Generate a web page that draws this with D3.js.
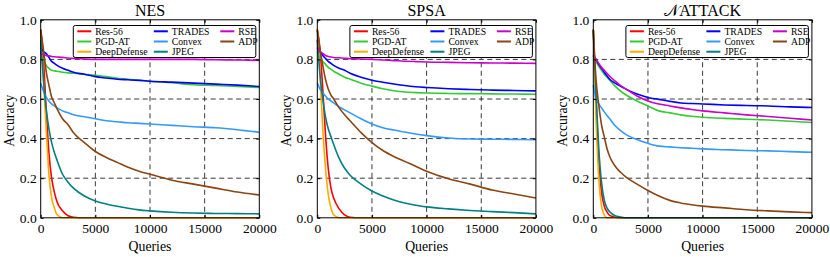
<!DOCTYPE html>
<html>
<head>
<meta charset="utf-8">
<script src="https://cdn.jsdelivr.net/npm/d3@7"></script>
<style>
  body { margin: 0; background: #fff; }
  text { font-family: "Liberation Serif", "Times New Roman", serif; font-weight: normal; }
</style>
</head>
<body>
<div id="chart"></div>
<script>
const queries = [0,250,500,750,1000,1250,1500,2000,2500,3000,4000,5000,6000,7000,8000,9000,10000,12000,14000,16000,18000,20000];

const methods = ["Res-56", "PGD-AT", "DeepDefense", "TRADES", "Convex", "JPEG", "RSE", "ADP"];
const colors = ["#ff0000", "#33cc33", "#ffaa00", "#0000ff", "#3399ff", "#008080", "#cc00cc", "#8b4513"];

const xTicks = [0, 5000, 10000, 15000, 20000];
const yTicks = [0, 0.2, 0.4, 0.6, 0.8, 1.0];

// NES
const nesRes56 = [0.95,0.8,0.55,0.33,0.2,0.13,0.08,0.035,0.01,0.003,0,0,0,0,0,0,0,0,0,0,0,0];
const nesPgdat = [0.84,0.8,0.77,0.755,0.745,0.742,0.74,0.735,0.732,0.73,0.725,0.72,0.713,0.705,0.70,0.695,0.69,0.682,0.672,0.668,0.663,0.658];
const nesDeep = [0.95,0.7,0.45,0.22,0.1,0.05,0.015,0,0,0,0,0,0,0,0,0,0,0,0,0,0,0];
const nesTrades = [0.86,0.84,0.83,0.81,0.79,0.78,0.77,0.755,0.745,0.735,0.725,0.713,0.706,0.70,0.697,0.694,0.69,0.685,0.68,0.675,0.67,0.663];
const nesConvex = [0.68,0.64,0.61,0.59,0.575,0.565,0.555,0.54,0.53,0.52,0.51,0.5,0.49,0.485,0.48,0.477,0.474,0.467,0.46,0.455,0.445,0.432];
const nesJpeg = [0.9,0.7,0.55,0.45,0.38,0.33,0.29,0.22,0.18,0.15,0.11,0.085,0.07,0.058,0.048,0.04,0.035,0.028,0.024,0.022,0.021,0.02];
const nesRse = [0.83,0.825,0.82,0.818,0.815,0.813,0.812,0.81,0.807,0.805,0.802,0.80,0.80,0.80,0.80,0.80,0.80,0.80,0.80,0.798,0.797,0.795];
const nesAdp = [0.95,0.85,0.74,0.67,0.61,0.58,0.55,0.5,0.47,0.43,0.38,0.335,0.305,0.28,0.255,0.235,0.22,0.19,0.17,0.15,0.13,0.115];

// SPSA
const spsaRes56 = [0.95,0.85,0.65,0.42,0.25,0.15,0.1,0.045,0.015,0.003,0,0,0,0,0,0,0,0,0,0,0,0];
const spsaPgdat = [0.84,0.81,0.79,0.775,0.76,0.75,0.74,0.725,0.71,0.70,0.68,0.665,0.652,0.642,0.635,0.632,0.63,0.628,0.627,0.626,0.625,0.624];
const spsaDeep = [0.95,0.72,0.45,0.25,0.12,0.05,0.015,0,0,0,0,0,0,0,0,0,0,0,0,0,0,0];
const spsaTrades = [0.86,0.84,0.82,0.805,0.79,0.78,0.77,0.755,0.745,0.73,0.71,0.695,0.685,0.676,0.668,0.662,0.658,0.652,0.648,0.645,0.643,0.641];
const spsaConvex = [0.68,0.65,0.63,0.615,0.6,0.59,0.58,0.56,0.545,0.53,0.5,0.474,0.455,0.443,0.433,0.423,0.415,0.403,0.398,0.397,0.396,0.394];
const spsaJpeg = [0.9,0.72,0.6,0.51,0.45,0.41,0.37,0.3,0.25,0.215,0.17,0.135,0.11,0.09,0.075,0.063,0.055,0.045,0.037,0.031,0.026,0.02];
const spsaRse = [0.86,0.84,0.83,0.82,0.815,0.812,0.81,0.808,0.806,0.804,0.802,0.80,0.797,0.794,0.791,0.789,0.787,0.785,0.783,0.782,0.781,0.78];
const spsaAdp = [0.95,0.85,0.77,0.7,0.65,0.62,0.6,0.555,0.52,0.49,0.43,0.38,0.34,0.31,0.285,0.26,0.235,0.197,0.17,0.14,0.12,0.10];

// NATTACK
const natRes56 = [0.95,0.6,0.3,0.13,0.06,0.03,0.012,0.003,0,0,0,0,0,0,0,0,0,0,0,0,0,0];
const natPgdat = [0.82,0.79,0.765,0.745,0.725,0.71,0.695,0.665,0.64,0.62,0.59,0.565,0.54,0.53,0.52,0.513,0.508,0.502,0.498,0.494,0.488,0.481];
const natDeep = [0.95,0.5,0.2,0.06,0.015,0,0,0,0,0,0,0,0,0,0,0,0,0,0,0,0,0];
const natTrades = [0.82,0.8,0.775,0.755,0.735,0.717,0.7,0.68,0.664,0.65,0.625,0.608,0.598,0.588,0.58,0.577,0.575,0.57,0.567,0.565,0.56,0.557];
const natConvex = [0.67,0.6,0.575,0.555,0.535,0.517,0.5,0.465,0.44,0.42,0.395,0.376,0.362,0.358,0.354,0.351,0.348,0.344,0.34,0.338,0.334,0.331];
const natJpeg = [0.95,0.62,0.35,0.18,0.09,0.05,0.03,0.01,0.004,0,0,0,0,0,0,0,0,0,0,0,0,0];
const natRse = [0.82,0.8,0.78,0.76,0.745,0.73,0.715,0.69,0.668,0.65,0.615,0.59,0.575,0.565,0.555,0.547,0.54,0.53,0.52,0.512,0.503,0.494];
const natAdp = [0.95,0.7,0.57,0.47,0.41,0.35,0.31,0.26,0.23,0.205,0.17,0.138,0.11,0.088,0.075,0.066,0.059,0.05,0.041,0.035,0.03,0.026];

const panels = [
  { title: "NES", left: 40.7, series: [nesRes56, nesPgdat, nesDeep, nesTrades, nesConvex, nesJpeg, nesRse, nesAdp] },
  { title: "SPSA", left: 317.3, series: [spsaRes56, spsaPgdat, spsaDeep, spsaTrades, spsaConvex, spsaJpeg, spsaRse, spsaAdp] },
  { title: "\u{1D4A9}ATTACK", left: 593.3, series: [natRes56, natPgdat, natDeep, natTrades, natConvex, natJpeg, natRse, natAdp] }
];

const W = 830, H = 257;
const pw = 218.6, plotTop = 19.8, plotBottom = 217.8;

const svg = d3.select("#chart").append("svg")
  .attr("width", W)
  .attr("height", H);

panels.forEach(p => {
  const x = d3.scaleLinear().domain([0, 20000]).range([p.left, p.left + pw]);
  const y = d3.scaleLinear().domain([0, 1]).range([plotBottom, plotTop]);
  const g = svg.append("g");

  // dashed grid
  g.append("g").selectAll("line")
    .data(xTicks.slice(1, -1))
    .join("line")
    .attr("x1", d => x(d)).attr("x2", d => x(d))
    .attr("y1", plotTop).attr("y2", plotBottom)
    .attr("stroke", "#222").attr("stroke-width", 0.9)
    .attr("stroke-dasharray", "5,3.5");
  g.append("g").selectAll("line")
    .data(yTicks.slice(1, -1))
    .join("line")
    .attr("x1", p.left).attr("x2", p.left + pw)
    .attr("y1", d => y(d)).attr("y2", d => y(d))
    .attr("stroke", "#222").attr("stroke-width", 0.9)
    .attr("stroke-dasharray", "5,3.5");

  // curves
  const line = d3.line()
    .x((d, i) => x(queries[i]))
    .y(d => y(d))
    .curve(d3.curveMonotoneX);

  g.append("g").selectAll("path")
    .data(p.series)
    .join("path")
    .attr("d", d => line(d))
    .attr("fill", "none")
    .attr("stroke", (d, i) => colors[i])
    .attr("stroke-width", 1.6);

  // axes with inward ticks
  const xAxis = g.append("g")
    .attr("transform", `translate(0,${plotBottom})`)
    .call(d3.axisBottom(x).tickValues(xTicks).tickSize(-3).tickPadding(5.5).tickFormat(d3.format("d")));
  const yAxis = g.append("g")
    .attr("transform", `translate(${p.left},0)`)
    .call(d3.axisLeft(y).tickValues(yTicks).tickSize(-3).tickPadding(4).tickFormat(d3.format(".1f")));
  g.append("g")
    .attr("transform", `translate(0,${plotTop})`)
    .call(d3.axisTop(x).tickValues(xTicks).tickSize(-3).tickFormat(""));
  g.append("g")
    .attr("transform", `translate(${p.left + pw},0)`)
    .call(d3.axisRight(y).tickValues(yTicks).tickSize(-3).tickFormat(""));

  g.selectAll(".domain").remove();
  [xAxis, yAxis].forEach(a => a.selectAll("text")
    .attr("font-size", 13.5)
    .attr("fill", "#000"));

  g.append("rect")
    .attr("x", p.left).attr("y", plotTop)
    .attr("width", pw).attr("height", plotBottom - plotTop)
    .attr("fill", "none").attr("stroke", "#000").attr("stroke-width", 1);

  // labels
  g.append("text")
    .attr("x", p.left + pw / 2).attr("y", 15.5)
    .attr("text-anchor", "middle")
    .attr("font-size", 16)
    .text(p.title);
  g.append("text")
    .attr("x", p.left + pw / 2).attr("y", 251)
    .attr("text-anchor", "middle")
    .attr("font-size", 13.8)
    .text("Queries");
  g.append("text")
    .attr("transform", `translate(${p.left - 26.5},${(plotTop + plotBottom) / 2 + 2}) rotate(-90)`)
    .attr("text-anchor", "middle")
    .attr("font-size", 13.6)
    .text("Accuracy");

  // legend
  const lw = 182.5, lh = 32;
  const lx = p.left + pw - 3.5 - lw, ly = plotTop + 5.7;
  const leg = g.append("g").attr("transform", `translate(${lx},${ly})`);
  leg.append("rect")
    .attr("width", lw).attr("height", lh)
    .attr("rx", 2)
    .attr("fill", "#fff").attr("stroke", "#000").attr("stroke-width", 1);
  const colX = [4, 80.5, 147];
  const item = leg.selectAll("g.item")
    .data(methods)
    .join("g")
    .attr("class", "item")
    .attr("transform", (d, i) => `translate(${colX[Math.floor(i / 3)]},${5.8 + (i % 3) * 10.2})`);
  item.append("line")
    .attr("x1", 0).attr("x2", 14)
    .attr("stroke", (d, i) => colors[i])
    .attr("stroke-width", 2);
  item.append("text")
    .attr("x", 18).attr("y", 3.4)
    .attr("font-size", 9.7)
    .text(d => d);
});
</script>
</body>
</html>
